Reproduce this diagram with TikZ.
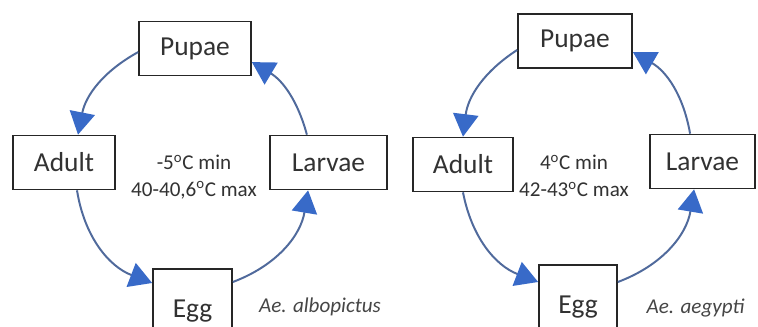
\documentclass[tikz,border=0pt]{standalone}
\usepackage{fontspec}
\setmainfont{Carlito}
\usepackage{xcolor}
\usepackage{tikz}
\usetikzlibrary{
    arrows.meta
}
\definecolor{linkblue}{RGB}{80,106,156}
\definecolor{tipblue}{RGB}{56,106,200}
\definecolor{inkgray}{RGB}{50,50,50}
\tikzstyle{stage} = [
    rectangle, draw,
    line width=1.2pt,
    draw=black!85,
    fill=white,
    minimum height=1.35cm,
    inner xsep=0pt,
    text centered,
    text=inkgray,
    font=\fontsize{19.5}{22}\selectfont
]
\tikzstyle{link} = [
    line width=1.4pt,
    draw=linkblue,
    -{Triangle[length=16pt,width=18pt,color=tipblue,fill=tipblue]}
]
\tikzstyle{temps} = [
    align=center,
    text=inkgray,
    font=\fontsize{15}{19}\selectfont
]
\tikzstyle{species} = [
    text=inkgray!90,
    font=\itshape\fontsize{15}{18}\selectfont
]

\begin{document}
\begin{tikzpicture}[
	    x=0.025cm, y=-0.025cm
	]
	    \clip (0,0) rectangle (758,327);
	    \fill[white] (0,0) rectangle (758,327);
	    % Ae. albopictus
	    \node[stage, minimum width=2.8cm]   (pupaeL)  at (195,48.5)   {Pupae};
	    \node[stage, minimum width=2.55cm]  (adultL)  at (64,162.5)   {Adult};
	    \node[stage, minimum width=2.925cm] (larvaeL) at (328.5,162.5) {Larvae};
	    \node[stage, minimum width=1.975cm, minimum height=2.1cm] (eggL) at (192.5,311) {Egg};
	    \node[temps]   (tempsL) at (194,177) {-5\textsuperscript{o}C min\\40-40,6\textsuperscript{o}C max};
	    \node[species] (nameL)  at (320,307) {Ae. albopictus};
	    \draw[link] ([yshift=-0.09cm]pupaeL.west) to[bend right=25] ([xshift=0.35cm]adultL.north);
	    \draw[link] ([xshift=0.325cm]adultL.south) to[bend right=30] ([yshift=0.7cm]eggL.west);
	    \draw[link] ([yshift=0.725cm]eggL.east) to[bend right=30] ([xshift=-0.51cm]larvaeL.south);
	    \draw[link] ([xshift=-0.54cm]larvaeL.north) to[bend right=22] ([yshift=-0.34cm]pupaeL.east);
	    % Ae. aegypti
	    \node[stage, minimum width=2.85cm]  (pupaeR)  at (575,41)     {Pupae};
	    \node[stage, minimum width=2.5cm]   (adultR)  at (463,164.5)  {Adult};
	    \node[stage, minimum width=2.625cm] (larvaeR) at (702.5,161.5) {Larvae};
	    \node[stage, minimum width=1.95cm, minimum height=2.1cm] (eggR) at (578,307) {Egg};
	    \node[temps]   (tempsR) at (574,176) {4\textsuperscript{o}C min\\42-43\textsuperscript{o}C max};
	    \node[species] (nameR)  at (695.5,308) {Ae. aegypti};
	    \draw[link] ([yshift=-0.225cm]pupaeR.west) to[bend right=25] (adultR.north);
	    \draw[link] (adultR.south) to[bend right=29] ([yshift=0.625cm]eggR.west);
	    \draw[link] ([yshift=0.625cm]eggR.east) to[bend right=30] ([xshift=-0.21cm]larvaeR.south);
	    \draw[link] ([xshift=-0.31cm]larvaeR.north) to[bend right=25] ([yshift=-0.275cm]pupaeR.east);
	\end{tikzpicture}
\end{document}
